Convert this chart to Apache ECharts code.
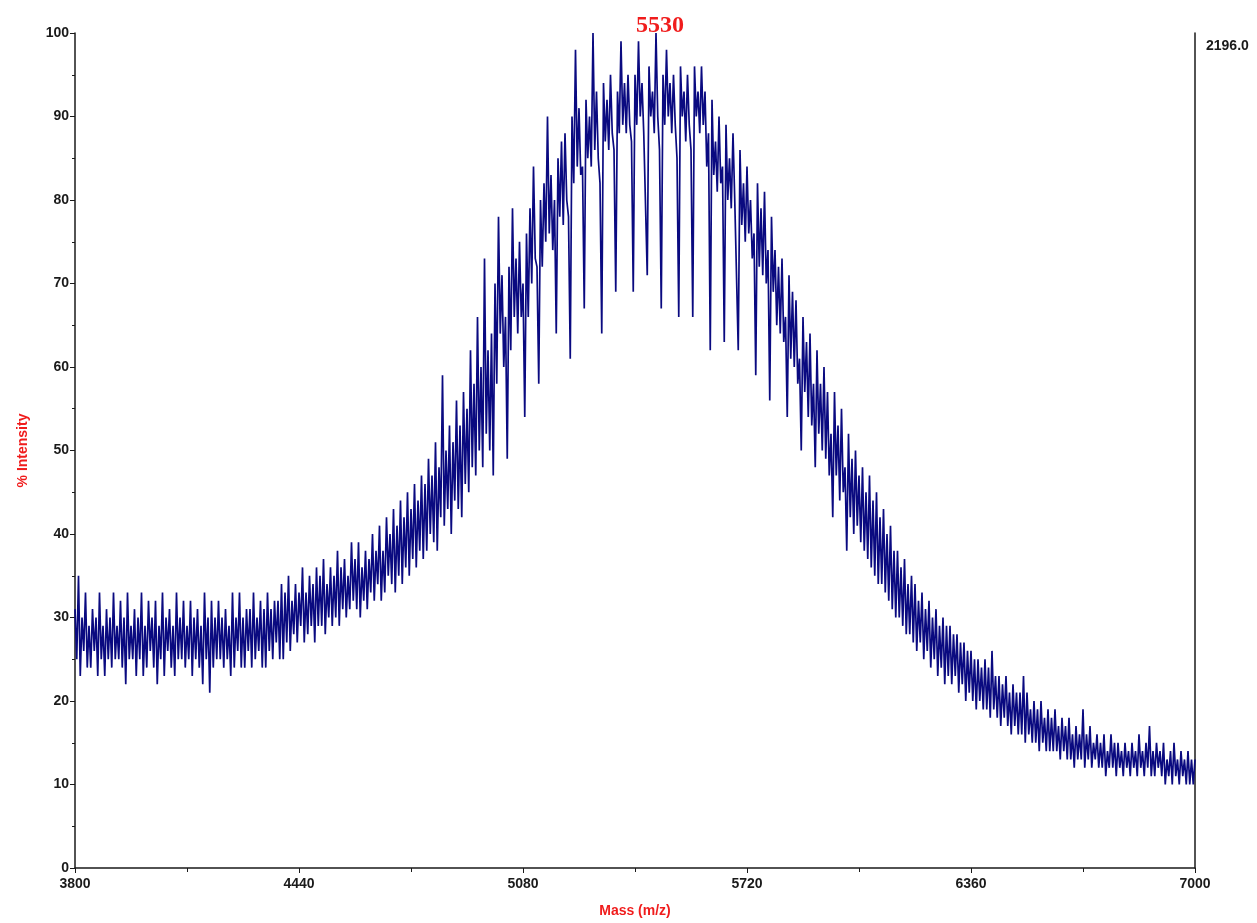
<!DOCTYPE html>
<html>
<head>
<meta charset="utf-8">
<title>Mass spectrum</title>
<script src="https://cdn.jsdelivr.net/npm/echarts@6/dist/echarts.min.js"></script>
<style>
  html, body { margin: 0; padding: 0; background: #fff; }
  #spectrum { width: 1257px; height: 923px; }
</style>
</head>
<body>
<div id="spectrum"></div>
<script>
// each 10 m/z bin from 3800 gives a top reading (at the bin) and a bottom reading (at +5)
const massStart = 3800;
const massStep = 10;
const massTicks = [3800, 4440, 5080, 5720, 6360, 7000];
const intensityTicks = [0, 10, 20, 30, 40, 50, 60, 70, 80, 90, 100];

// % intensity, split by region
// 3800 - 4390 : flat baseline
const baseTops = [31,35,30,33,29,31,30,33,29,31, 30,33,29,32,30,33,29,31,30,33,
  29,32,30,32,29,33,30,31,29,33, 30,32,29,32,30,31,29,33,30,32,
  30,32,30,31,29,33,30,33,30,31, 31,33,30,32,31,33,31,32,32,34];
const baseBottoms = [25,23,26,24,24,26,23,25,23,25, 24,25,25,24,22,25,25,23,25,23,
  24,26,24,22,25,23,26,24,23,25, 25,24,25,23,25,24,22,25,21,24,
  25,25,24,25,23,24,26,24,24,26, 24,25,26,24,24,26,25,27,25,25];
// 4400 - 4990 : rising flank
const riseTops = [33,35,32,34,33,36,33,35,34,36, 35,37,34,36,35,38,36,37,35,39,
  37,39,36,38,37,40,38,41,38,42, 40,43,41,44,42,45,43,46,44,47,
  46,49,47,51,48,59,50,53,51,56, 53,57,55,62,58,66,60,73,62,64];
const riseBottoms = [27,26,28,27,29,27,28,29,27,29, 29,28,30,29,30,29,31,30,31,32,
  31,30,32,31,33,32,34,32,33,35, 34,33,35,34,36,35,37,36,38,37,
  38,40,39,38,42,41,43,40,44,43, 42,46,45,48,47,50,48,52,50,47];
// 5000 - 5590 : top of the envelope, regular 44 Da comb of dips
const topTops = [70,78,71,66,72,79,73,75,70,76, 79,84,72,80,82,90,83,80,85,87,
  88,78,90,98,91,84,92,90,100,93, 82,94,92,95,86,93,99,94,95,87,
  95,99,94,88,96,93,100,86,95,98, 94,95,85,96,93,95,86,96,93,96];
const topBottoms = [58,64,60,49,62,66,64,66,54,66, 70,73,58,72,75,76,74,64,78,77,
  80,61,82,84,83,67,85,84,86,85, 64,87,86,88,69,88,89,88,89,69,
  89,90,88,71,90,88,90,67,89,90, 88,89,66,90,87,89,66,90,88,89];
// 5600 - 6190 : falling flank
const fallTops = [93,88,92,87,90,84,89,85,88,80, 86,82,84,80,76,82,79,81,74,78,
  74,72,73,66,71,69,68,61,66,63, 64,58,62,58,60,57,52,57,53,55,
  48,52,49,50,47,48,45,47,44,45, 42,43,40,41,38,38,36,37,34,35];
const fallBottoms = [84,62,83,81,82,63,80,79,80,62, 77,75,76,73,59,72,71,70,56,69,
  65,64,63,54,61,60,58,50,57,54, 53,48,52,50,49,47,42,47,44,45,
  38,42,40,41,39,38,37,36,35,34, 34,33,32,31,30,30,29,28,28,27];
// 6200 - 6790 : tail
const tailTops = [34,32,33,31,32,30,31,29,30,29, 29,28,28,27,27,26,26,25,25,24,
  25,24,26,23,23,22,23,21,22,21, 21,23,21,19,20,19,20,18,19,18,
  19,17,18,17,18,16,17,16,19,16, 17,15,16,15,16,14,16,15,15,14];
const tailBottoms = [26,27,25,26,24,25,23,24,22,23, 22,23,21,22,20,21,20,19,20,19,
  19,18,19,18,17,18,17,16,17,16, 16,15,16,15,15,14,15,14,14,14,
  14,13,14,13,13,12,13,13,12,13, 12,13,12,12,11,12,12,11,12,11];
// 6800 - 7000 : end of the range
const endTops = [15,14,15,14,16,14,15,17,14,15, 14,15,13,14,15,13,14,13,14,13,13];
const endBottoms = [12,11,12,11,12,11,12,11,11,12, 11,10,11,10,11,10,11,10,10,10];

const tops = [].concat(baseTops, riseTops, topTops, fallTops, tailTops, endTops);
const bottoms = [].concat(baseBottoms, riseBottoms, topBottoms, fallBottoms, tailBottoms, endBottoms);

const spectrum = [];
tops.forEach((v, i) => {
  spectrum.push([massStart + i * massStep, v]);
  if (i < bottoms.length) spectrum.push([massStart + i * massStep + massStep / 2, bottoms[i]]);
});

const peakLabel = '5530';
const fullScale = '2196.0';

const labelFont = { fontFamily: 'Liberation Sans, Arial, sans-serif', fontWeight: 'bold' };
const ink = '#1a1a1a';
const red = '#f01c1c';

const chart = echarts.init(document.getElementById('spectrum'));
chart.setOption({
  animation: false,
  backgroundColor: '#fff',
  title: [
    {
      text: peakLabel,
      left: 655, top: 9,
      textAlign: 'center',
      textStyle: { fontFamily: 'Liberation Serif, Times New Roman, serif', fontWeight: 'bold', fontSize: 24, color: red }
    },
    {
      text: fullScale,
      left: 1201, top: 34,
      textStyle: Object.assign({ fontSize: 14, color: ink }, labelFont)
    }
  ],
  grid: { left: 75, right: 62, top: 33, bottom: 50 },
  xAxis: {
    type: 'value',
    min: 3800, max: 7000, interval: 640,
    name: 'Mass (m/z)',
    nameLocation: 'middle',
    nameGap: 36,
    nameTextStyle: Object.assign({ fontSize: 14, color: red }, labelFont),
    axisLine: { onZero: false, lineStyle: { color: ink, width: 1.5 } },
    axisTick: { length: 5, lineStyle: { color: ink } },
    minorTick: { show: true, splitNumber: 2, length: 4, lineStyle: { color: ink } },
    axisLabel: Object.assign({ fontSize: 14, color: ink, margin: 9,
      formatter: v => massTicks.includes(v) ? String(v) : '' }, labelFont),
    splitLine: { show: false }
  },
  yAxis: [
    {
      type: 'value',
      min: 0, max: 100, interval: 10,
      name: '% Intensity',
      nameLocation: 'middle',
      nameGap: 45,
      nameTextStyle: Object.assign({ fontSize: 14, color: red }, labelFont),
      axisLine: { show: true, lineStyle: { color: ink, width: 1.5 } },
      axisTick: { show: true, length: 5, lineStyle: { color: ink } },
      minorTick: { show: true, splitNumber: 2, length: 3, lineStyle: { color: ink } },
      axisLabel: Object.assign({ fontSize: 14, color: ink, margin: 6,
        formatter: v => intensityTicks.includes(v) ? String(v) : '' }, labelFont),
      splitLine: { show: false }
    },
    {
      type: 'value',
      position: 'right',
      min: 0, max: 100,
      axisLine: { show: true, lineStyle: { color: ink, width: 1.5 } },
      axisTick: { show: false },
      axisLabel: { show: false },
      splitLine: { show: false }
    }
  ],
  series: [
    {
      type: 'line',
      data: spectrum,
      showSymbol: false,
      sampling: null,
      lineStyle: { color: '#0a0a80', width: 1.7 },
      clip: true
    }
  ]
});
</script>
</body>
</html>
